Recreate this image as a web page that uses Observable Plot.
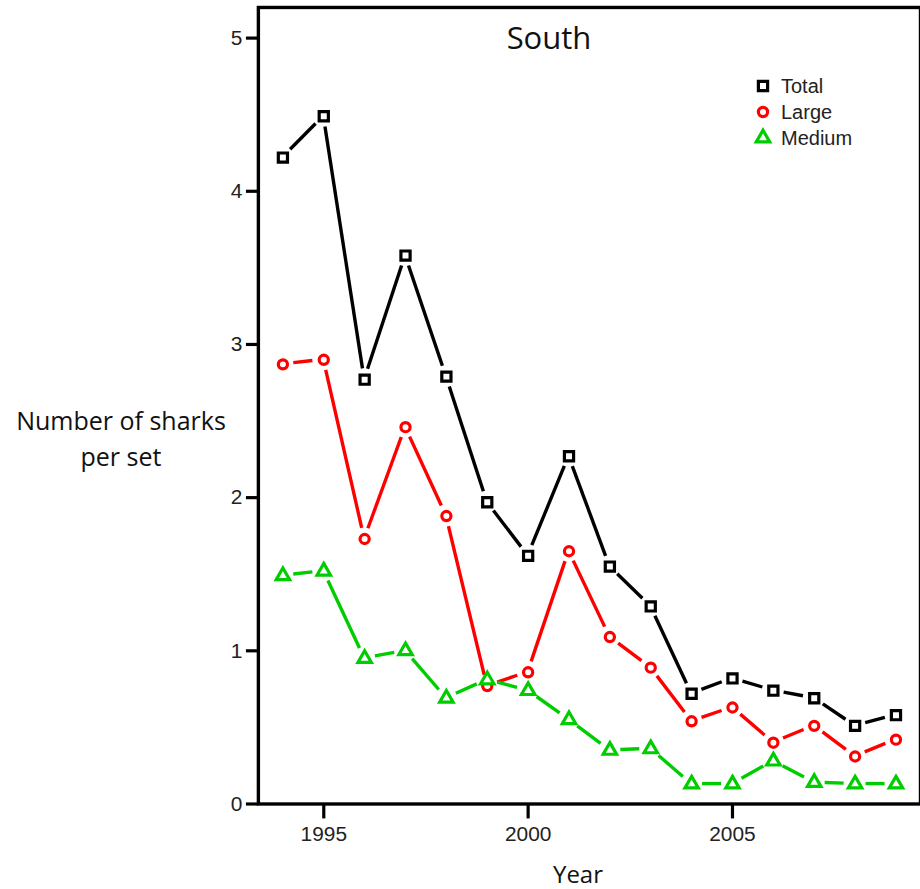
<!DOCTYPE html>
<html><head><meta charset="utf-8">
<script src="https://cdn.jsdelivr.net/npm/d3@7"></script>
<script src="https://cdn.jsdelivr.net/npm/@observablehq/plot@0.6"></script>
<style>
html,body{margin:0;padding:0;background:#fff;overflow:hidden;width:920px;height:889px}
#wrap{position:relative;width:920px;height:889px;overflow:hidden}
#wrap svg{position:absolute;left:0;top:0}
</style></head><body><div id="wrap"></div>
<script>
const years = [1994,1995,1996,1997,1998,1999,2000,2001,2002,2003,2004,2005,2006,2007,2008,2009];
const total  = [4.22,4.49,2.77,3.58,2.79,1.97,1.62,2.27,1.55,1.29,0.72,0.82,0.74,0.69,0.51,0.58];
const large  = [2.87,2.90,1.73,2.46,1.88,0.77,0.86,1.65,1.09,0.89,0.54,0.63,0.40,0.51,0.31,0.42];
const medium = [1.49,1.52,0.95,1.00,0.69,0.81,0.74,0.55,0.35,0.36,0.13,0.13,0.28,0.14,0.13,0.13];
const seriesNames = ["Total","Large","Medium"];
const seriesColors = ["#000000","#ff0000","#00cd00"];
const seriesSymbols = ["square","circle","triangle"];
const seriesRadius = [5.2,4.6,5.0];
const xTicks = [1995,2000,2005];
const yTicks = [0,1,2,3,4,5];

const seriesValues = [total, large, medium];
const rows = [];
const segs = [];
seriesNames.forEach((s, i) => years.forEach((yr, j) => {
  rows.push({series: s, year: yr, value: seriesValues[i][j]});
  if (j > 0) segs.push({series: s, x1: years[j-1], y1: seriesValues[i][j-1], x2: yr, y2: seriesValues[i][j]});
}));

// Shortened segments (gap around each point), computed in pixel space via the plot's own scales
function gapLine(data, color) {
  return (index, scales, values, dimensions, context) => {
    const g = d3.create("svg:g");
    const gap = 11;
    for (const d of data) {
      const ax = scales.x(d.x1), ay = scales.y(d.y1), bx = scales.x(d.x2), by = scales.y(d.y2);
      const L = Math.hypot(bx - ax, by - ay);
      if (L <= 2 * gap) continue;
      const ux = (bx - ax) / L, uy = (by - ay) / L;
      g.append("line")
        .attr("x1", ax + ux * gap).attr("y1", ay + uy * gap)
        .attr("x2", bx - ux * gap).attr("y2", by - uy * gap)
        .attr("stroke", color).attr("stroke-width", 3.4).attr("stroke-linecap", "butt");
    }
    return g.node();
  };
}
const lines = seriesNames.map((s, i) => {
  const data = segs.filter(d => d.series === s);
  return Plot.link(data, {x1: "x1", y1: "y1", x2: "x2", y2: "y2", stroke: seriesColors[i], render: gapLine(data, seriesColors[i])});
});
const dots = seriesNames.map((s, i) => Plot.dot(rows.filter(d => d.series === s), {x: "year", y: "value", symbol: seriesSymbols[i], r: seriesRadius[i], stroke: seriesColors[i], strokeWidth: 3.2, fill: "#ffffff"}));

const plot = Plot.plot({
  width: 924, height: 889,
  marginLeft: 259, marginRight: 0, marginTop: 7, marginBottom: 82,
  style: {fontFamily: "'Liberation Sans', Arial, sans-serif", fontSize: "21px", background: "transparent", color: "#222", overflow: "visible"},
  x: {domain: [1993.4, 2009.6]},
  y: {domain: [0, 5.2]},
  marks: [
    ...lines, ...dots,
    Plot.axisX({ticks: xTicks, tickFormat: d => String(d), tickSize: 15, tickPadding: 7, stroke: "#000", strokeWidth: 3.2, fontSize: 21, label: null}),
    Plot.axisY({ticks: yTicks, tickFormat: d => String(d), tickSize: 12, tickPadding: 4, stroke: "#000", strokeWidth: 3.2, fontSize: 21, label: null}),
    Plot.frame({stroke: "#000", strokeWidth: 3.4})
  ]
});
const wrap = document.getElementById("wrap");
wrap.appendChild(plot);

const ns = "http://www.w3.org/2000/svg";
const ov = d3.create("svg").attr("width", 920).attr("height", 889).attr("xmlns", ns);
const hum = "'Open Sans', 'Noto Sans', sans-serif";
ov.append("text").attr("x", 549).attr("y", 49).attr("text-anchor", "middle").attr("font-family", hum).attr("font-size", 31).attr("fill", "#111").text("South");
ov.append("text").attr("x", 121).attr("y", 430).attr("text-anchor", "middle").attr("font-family", hum).attr("font-size", 25).attr("fill", "#111").text("Number of sharks");
ov.append("text").attr("x", 121).attr("y", 466).attr("text-anchor", "middle").attr("font-family", hum).attr("font-size", 25).attr("fill", "#111").text("per set");
ov.append("text").attr("x", 578).attr("y", 883).attr("text-anchor", "middle").attr("font-family", hum).attr("font-size", 24).attr("fill", "#111").text("Year");

const legY = [86, 112, 138];
seriesNames.forEach((s, i) => {
  const g = ov.append("g").attr("transform", `translate(763,${legY[i]})`);
  const sym = {square: d3.symbolSquare, circle: d3.symbolCircle, triangle: d3.symbolTriangle}[seriesSymbols[i]];
  g.append("path").attr("d", d3.symbol(sym, Math.PI * seriesRadius[i] * seriesRadius[i])()).attr("fill", "white").attr("stroke", seriesColors[i]).attr("stroke-width", 3.2);
  ov.append("text").attr("x", 781).attr("y", legY[i]).attr("dy", "0.35em").attr("font-family", "'Liberation Sans', Arial, sans-serif").attr("font-size", 20).attr("fill", "#222").text(s);
});
wrap.appendChild(ov.node());
</script></body></html>
